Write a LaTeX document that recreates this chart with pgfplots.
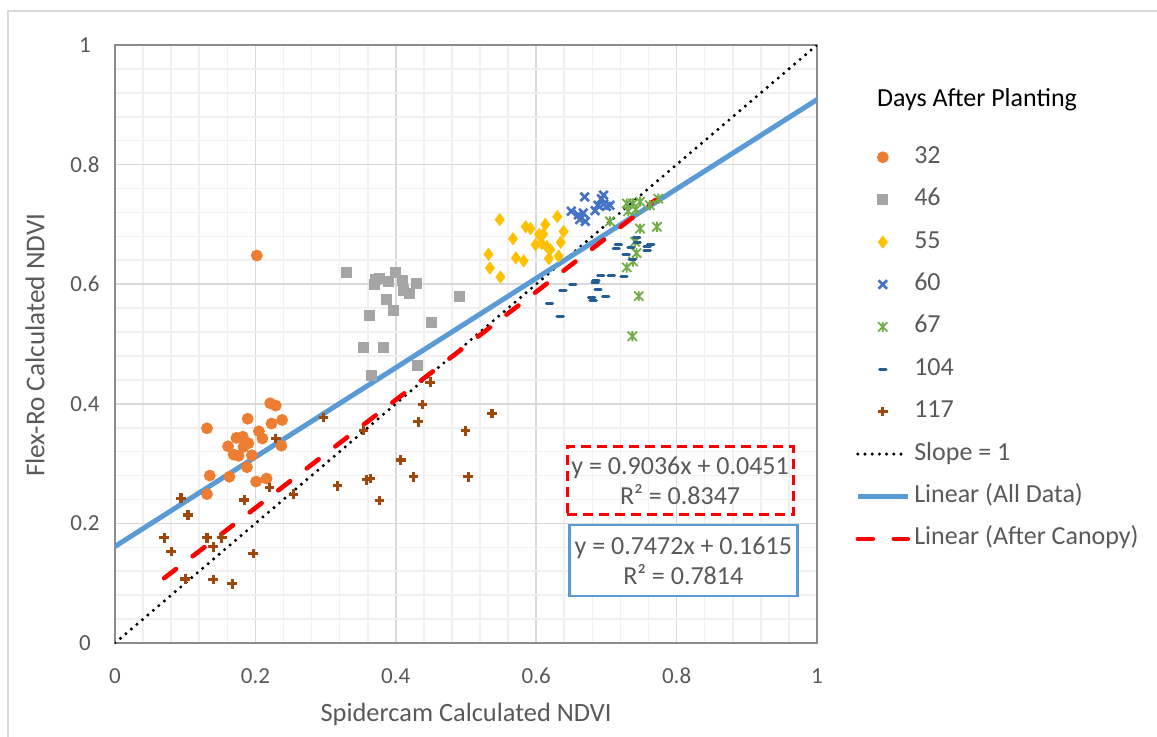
\documentclass[border=0pt]{standalone}
\usepackage{pgfplots}
\pgfplotsset{compat=1.18}
\usepackage{fontspec}
\setmainfont{Carlito}
\definecolor{textgray}{HTML}{595959}
\definecolor{axisgray}{HTML}{8C8C8C}
\definecolor{majgrid}{HTML}{D9D9D9}
\definecolor{mingrid}{HTML}{F0F0F0}
\definecolor{bordergray}{HTML}{D9D9D9}
\definecolor{c32}{HTML}{ED7D31}
\definecolor{c46}{HTML}{A5A5A5}
\definecolor{c55}{HTML}{FFC000}
\definecolor{c60}{HTML}{4472C4}
\definecolor{c67}{HTML}{70AD47}
\definecolor{c104}{HTML}{255E91}
\definecolor{c117}{HTML}{9E480E}
\definecolor{lineblue}{HTML}{5B9BD5}
\pgfdeclareplotmark{xast}{%
  \pgfpathmoveto{\pgfqpoint{-\pgfplotmarksize}{-\pgfplotmarksize}}%
  \pgfpathlineto{\pgfqpoint{\pgfplotmarksize}{\pgfplotmarksize}}%
  \pgfpathmoveto{\pgfqpoint{-\pgfplotmarksize}{\pgfplotmarksize}}%
  \pgfpathlineto{\pgfqpoint{\pgfplotmarksize}{-\pgfplotmarksize}}%
  \pgfpathmoveto{\pgfqpoint{0pt}{-1.1\pgfplotmarksize}}%
  \pgfpathlineto{\pgfqpoint{0pt}{1.1\pgfplotmarksize}}%
  \pgfusepathqstroke}
\pgfplotsset{
  legend image code/.code={\draw[mark repeat=2,mark phase=2,#1] plot coordinates {(0pt,0pt) (12.5pt,0pt) (25pt,0pt)};},
}
\begin{document}
\begin{tikzpicture}
\useasboundingbox (0pt,0pt) rectangle (578.5pt,368pt);
\draw[color=bordergray, line width=1pt] (4pt,-10pt) -- (4pt,362.5pt) -- (600pt,362.5pt);
\begin{axis}[
  at={(57.5pt,46.5pt)}, anchor=south west,
  scale only axis, width=351pt, height=299pt,
  xmin=0, xmax=1, ymin=0, ymax=1,
  xtick={0,0.2,0.4,0.6,0.8,1}, ytick={0,0.2,0.4,0.6,0.8,1},
  minor tick num=4,
  grid=both,
  major grid style={color=majgrid, line width=0.8pt},
  minor grid style={color=mingrid, line width=0.8pt},
  axis line style={color=axisgray, line width=1pt},
  major tick length=0pt, minor tick length=0pt,
  /pgf/number format/assume math mode=true,
  tick label style={font=\fontsize{11.5}{13}\selectfont, text=textgray},
  xticklabel style={anchor=center, yshift=-16.5pt},
  yticklabel style={anchor=center, xshift=-15pt, text width=24pt, align=center},
  xlabel={Spidercam Calculated NDVI},
  ylabel={Flex-Ro Calculated NDVI},
  every axis x label/.style={at={(axis description cs:0.5,-0.1187)}, anchor=center,
    font=\fontsize{13.2}{15}\selectfont, text=textgray},
  every axis y label/.style={at={(axis description cs:-0.114,0.498)}, rotate=90, anchor=center,
    font=\fontsize{13.6}{15}\selectfont, text=textgray},
  legend style={at={(axis description cs:1.054,0.833)}, anchor=north west, draw=none, fill=none,
    font=\fontsize{13}{15}\selectfont, text=textgray, row sep=9.2pt, column sep=2pt, inner sep=0pt,
    nodes={inner sep=0pt, text height=9pt, text depth=3pt}},
  legend cell align=left,
]
\addplot[only marks, mark=*, mark size=2.75pt, color=c32] coordinates {
(0.202,0.648) (0.221,0.401) (0.229,0.397) (0.189,0.375) (0.238,0.373) (0.223,0.367)
(0.131,0.359) (0.205,0.354) (0.210,0.342) (0.173,0.343) (0.182,0.345) (0.190,0.334)
(0.161,0.329) (0.183,0.328) (0.237,0.330) (0.195,0.314) (0.169,0.315) (0.176,0.313)
(0.188,0.294) (0.135,0.280) (0.163,0.278) (0.216,0.275) (0.201,0.270) (0.131,0.249)
};
\addlegendentry{32}
\addplot[only marks, mark=square*, mark size=2.5pt, color=c46] coordinates {
(0.329,0.620) (0.371,0.608) (0.377,0.610) (0.369,0.599) (0.389,0.604) (0.400,0.619)
(0.410,0.607) (0.411,0.590) (0.419,0.585) (0.429,0.602) (0.387,0.575) (0.396,0.556)
(0.362,0.548) (0.490,0.579) (0.451,0.536) (0.354,0.494) (0.383,0.494) (0.431,0.465)
(0.365,0.447)
};
\addlegendentry{46}
\addplot[only marks, mark=diamond*, mark size=3pt, color=c55] coordinates {
(0.548,0.708) (0.630,0.713) (0.613,0.700) (0.585,0.696) (0.592,0.693) (0.639,0.688)
(0.635,0.670) (0.567,0.676) (0.604,0.683) (0.610,0.684) (0.599,0.666) (0.608,0.668)
(0.615,0.663) (0.620,0.658) (0.532,0.650) (0.571,0.644) (0.582,0.639) (0.618,0.643)
(0.632,0.647) (0.534,0.627) (0.549,0.612)
};
\addlegendentry{55}
\addplot[only marks, mark=x, mark size=3pt, line width=1.3pt, color=c60] coordinates {
(0.669,0.746) (0.696,0.749) (0.650,0.722) (0.660,0.716) (0.667,0.719) (0.662,0.708)
(0.670,0.705) (0.688,0.732) (0.696,0.734) (0.700,0.730) (0.705,0.732) (0.684,0.723)
(0.693,0.743)
};
\addlegendentry{60}
\addplot[only marks, mark=xast, mark size=2.3pt, line width=0.9pt, color=c67] coordinates {
(0.729,0.735) (0.738,0.735) (0.748,0.738) (0.774,0.743) (0.731,0.722) (0.705,0.705)
(0.748,0.693) (0.772,0.696) (0.741,0.671) (0.743,0.652) (0.738,0.638) (0.729,0.628)
(0.746,0.580) (0.737,0.513) (0.762,0.732) (0.742,0.725)
};
\addlegendentry{67}
\addplot[only marks, mark=-, mark size=1.6pt, line width=1.5pt, line cap=round, color=c104] coordinates {
(0.743,0.678) (0.744,0.670) (0.717,0.667) (0.714,0.660) (0.735,0.661) (0.758,0.663)
(0.763,0.667) (0.758,0.656) (0.728,0.649) (0.737,0.641) (0.692,0.614) (0.707,0.615)
(0.725,0.613) (0.685,0.607) (0.684,0.603) (0.652,0.599) (0.688,0.591) (0.638,0.589)
(0.679,0.578) (0.681,0.572) (0.699,0.580) (0.619,0.567) (0.634,0.546)
};
\addlegendentry{104}
\addplot[only marks, mark=+, mark size=2.4pt, line width=1.6pt, color=c117] coordinates {
(0.229,0.342) (0.220,0.260) (0.254,0.249) (0.094,0.242) (0.184,0.239) (0.104,0.214)
(0.070,0.176) (0.131,0.176) (0.152,0.176) (0.140,0.161) (0.080,0.153) (0.197,0.150)
(0.100,0.107) (0.140,0.106) (0.167,0.099) (0.297,0.377) (0.449,0.436) (0.438,0.399)
(0.432,0.370) (0.537,0.384) (0.499,0.355) (0.354,0.356) (0.407,0.306) (0.317,0.263)
(0.358,0.273) (0.364,0.275) (0.425,0.278) (0.503,0.278) (0.377,0.238)
};
\addlegendentry{117}
\addplot[no marks, black, line width=1.7pt, line cap=round, dash pattern=on 0pt off 3.6pt] coordinates {(0,0) (1,1)};
\addlegendentry{Slope = 1}
\addplot[no marks, lineblue, line width=2.5pt] coordinates {(0,0.1615) (1,0.9087)};
\addlegendentry{Linear (All Data)}
\addplot[no marks, red, line width=2.3pt, line cap=round, dash pattern=on 7.5pt off 10.5pt] coordinates {(0.07,0.1084) (0.77,0.7409)};
\addlegendentry{Linear (After Canopy)}
\node[draw=red, line width=1.5pt, dash pattern=on 5pt off 3pt, minimum width=113pt, minimum height=34pt,
  align=center, inner sep=0pt, font=\fontsize{13}{15}\selectfont, text=textgray]
  at (axis cs:0.805,0.271) {y = 0.9036x + 0.0451\\R² = 0.8347};
\node[draw=lineblue, line width=1.3pt, minimum width=114pt, minimum height=35.5pt,
  align=center, inner sep=0pt, font=\fontsize{13}{15}\selectfont, text=textgray, fill=white]
  at (axis cs:0.8095,0.138) {y = 0.7472x + 0.1615\\R² = 0.7814};
\end{axis}
\node[font=\fontsize{13}{15}\selectfont, text=black, anchor=center] at (488.5pt,318pt) {Days After Planting};
\end{tikzpicture}
\end{document}
